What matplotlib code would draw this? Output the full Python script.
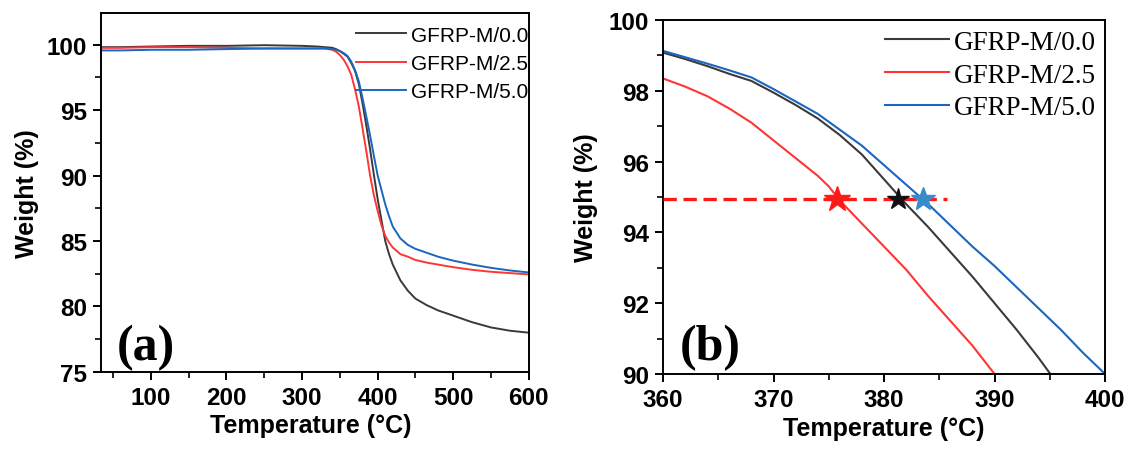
import matplotlib
matplotlib.use('Agg')
import matplotlib.pyplot as plt
from matplotlib.ticker import MultipleLocator

plt.rcParams['font.family'] = ['Liberation Sans', 'DejaVu Sans']

labels = ['GFRP-M/0.0', 'GFRP-M/2.5', 'GFRP-M/5.0']
colors = ['#3a3a3a', '#ff3535', '#1a66c0']

# panel (a): full TGA curves
t_black = [34, 60, 100, 150, 200, 250, 300, 320, 330, 340, 345, 350, 355, 360, 365, 370, 375, 380,
           385, 390, 395, 400, 405, 410, 415, 420, 430, 440, 450, 465, 480, 500, 525, 550, 575, 600]
w_black = [99.8, 99.8, 99.85, 99.9, 99.9, 99.95, 99.9, 99.85, 99.8, 99.75, 99.65, 99.5, 99.3, 99.08,
           98.6, 98.0, 97.0, 95.5, 93.8, 92.0, 90.05, 88.2, 86.6, 85.0, 84.0, 83.2, 82.0, 81.2, 80.6,
           80.1, 79.7, 79.3, 78.8, 78.4, 78.15, 78.0]

t_red = [34, 60, 100, 150, 200, 250, 300, 320, 330, 340, 345, 350, 355, 360, 365, 370, 375, 380,
         385, 390, 395, 400, 405, 410, 415, 420, 430, 440, 450, 465, 480, 500, 525, 550, 575, 600]
w_red = [99.75, 99.75, 99.8, 99.8, 99.75, 99.7, 99.7, 99.7, 99.7, 99.6, 99.45, 99.2, 98.85, 98.35,
         97.7, 96.6, 95.3, 93.6, 91.85, 90.0, 88.5, 87.3, 86.2, 85.4, 84.9, 84.5, 84.0, 83.8, 83.55,
         83.35, 83.2, 83.0, 82.8, 82.65, 82.55, 82.45]

t_blue = [34, 60, 100, 150, 200, 250, 300, 320, 330, 340, 345, 350, 355, 360, 365, 370, 375, 380,
          385, 390, 395, 400, 405, 410, 415, 420, 430, 440, 450, 465, 480, 500, 525, 550, 575, 600]
w_blue = [99.55, 99.55, 99.6, 99.6, 99.65, 99.7, 99.7, 99.7, 99.7, 99.65, 99.6, 99.5, 99.35, 99.13,
          98.7, 98.05, 97.2, 95.9, 94.5, 93.05, 91.5, 90.0, 88.9, 87.8, 86.9, 86.1, 85.2, 84.7, 84.4,
          84.1, 83.8, 83.5, 83.2, 82.95, 82.75, 82.6]

# panel (b): zoom 360-400 C
zt_black = [360, 362, 364, 366, 368, 370, 372, 374, 376, 378, 380, 382, 384, 386, 388, 390, 392, 394, 395]
zw_black = [99.08, 98.9, 98.7, 98.48, 98.28, 97.95, 97.6, 97.22, 96.75, 96.2, 95.5, 94.8, 94.15,
            93.45, 92.75, 92.0, 91.25, 90.45, 90.02]

zt_red = [360, 362, 364, 366, 368, 370, 372, 374, 375, 376, 378, 380, 382, 384, 386, 388, 390]
zw_red = [98.35, 98.12, 97.85, 97.5, 97.1, 96.6, 96.1, 95.6, 95.3, 94.9, 94.25, 93.6, 92.95, 92.2,
          91.5, 90.8, 90.0]

zt_blue = [360, 362, 364, 366, 368, 370, 372, 374, 376, 378, 380, 382, 384, 386, 388, 390, 392, 394,
           396, 398, 400]
zw_blue = [99.13, 98.95, 98.77, 98.58, 98.38, 98.05, 97.7, 97.35, 96.9, 96.45, 95.9, 95.35, 94.8,
           94.2, 93.6, 93.05, 92.45, 91.85, 91.25, 90.6, 90.0]

# T at 5 % weight loss
t5 = [381.3, 375.7, 383.5]
w5 = 94.95
star_colors = ['#111111', '#ff1a1a', '#3a8cc8']

fig = plt.figure(figsize=(11.32, 4.52), dpi=100)
ax1 = fig.add_axes([0.0892, 0.1748, 0.378, 0.794])
ax2 = fig.add_axes([0.5857, 0.1704, 0.3905, 0.783])

for t, w, c, lab in zip([t_black, t_red, t_blue], [w_black, w_red, w_blue], colors, labels):
    ax1.plot(t, w, color=c, lw=1.4, label=lab)
for t, w, c, lab in zip([zt_black, zt_red, zt_blue], [zw_black, zw_red, zw_blue], colors, labels):
    ax2.plot(t, w, color=c, lw=1.5, label=lab)

ax2.plot([360, 385.7], [w5, w5], color='#ff1a1a', lw=2.4, ls=(0, (4, 2)), zorder=3)
for t, c, ms in zip([t5[1], t5[0], t5[2]], [star_colors[1], star_colors[0], star_colors[2]], [19, 16, 18]):
    ax2.plot(t, w5, marker='*', ms=ms, color=c, mec=c, zorder=4)

ax1.set_xlim(34, 600)
ax1.set_ylim(75, 102.4)
ax1.xaxis.set_major_locator(MultipleLocator(100))
ax1.xaxis.set_minor_locator(MultipleLocator(50))
ax1.yaxis.set_major_locator(MultipleLocator(5))
ax1.yaxis.set_minor_locator(MultipleLocator(2.5))

ax2.set_xlim(360, 400)
ax2.set_ylim(90, 100)
ax2.xaxis.set_major_locator(MultipleLocator(10))
ax2.xaxis.set_minor_locator(MultipleLocator(5))
ax2.yaxis.set_major_locator(MultipleLocator(2))
ax2.yaxis.set_minor_locator(MultipleLocator(1))

for ax in (ax1, ax2):
    for sp in ax.spines.values():
        sp.set_linewidth(1.4)
    ax.tick_params(which='major', direction='out', length=6, width=1.4, labelsize=17.5, pad=4)
    ax.tick_params(which='minor', direction='out', length=4, width=1.2)
    for lab in ax.get_xticklabels() + ax.get_yticklabels():
        lab.set_fontweight('bold')
    ax.set_xlabel('Temperature (°C)', fontsize=18, fontweight='bold', va='top')
    ax.set_ylabel('Weight (%)', fontsize=18, fontweight='bold')

ax1.xaxis.set_label_coords(0.49, -0.115)
ax2.xaxis.set_label_coords(0.50, -0.118)
ax1.yaxis.set_label_coords(-0.145, 0.5)
ax2.yaxis.set_label_coords(-0.148, 0.5)

ax1.legend(loc='upper right', bbox_to_anchor=(1.0, 0.965), frameon=False, fontsize=15,
           handlelength=2.4, handletextpad=0.25, labelspacing=0.45, borderpad=0, borderaxespad=0)
ax2.legend(loc='upper right', bbox_to_anchor=(0.98, 0.972), frameon=False,
           prop={'family': 'Liberation Serif', 'size': 19.5},
           handlelength=2.35, handletextpad=0.2, labelspacing=0.28, borderpad=0, borderaxespad=0)

ax1.text(0.037, 0.036, '(a)', transform=ax1.transAxes, fontsize=36, fontweight='bold',
         family='Liberation Serif', va='baseline')
ax2.text(0.038, 0.042, '(b)', transform=ax2.transAxes, fontsize=36, fontweight='bold',
         family='Liberation Serif', va='baseline')

fig.savefig('out.png', dpi=100)
